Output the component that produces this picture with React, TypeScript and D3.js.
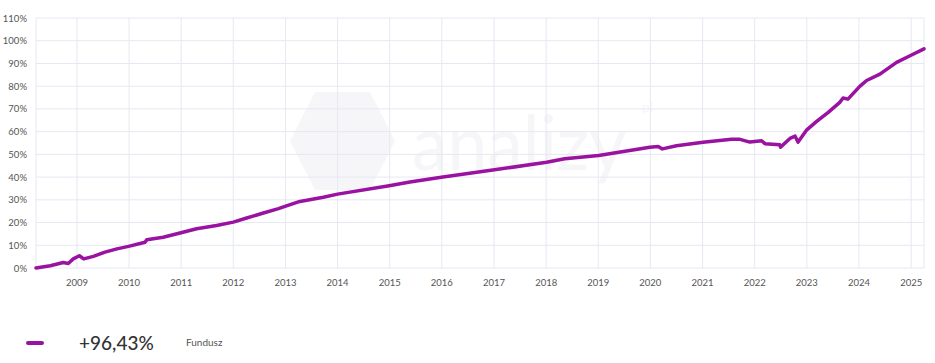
import React from 'react';
import * as d3 from 'd3';

// fund cumulative return (%)
const dates = [
  '2008-03-20', '2008-06-28', '2008-09-27', '2008-11-01', '2008-12-06', '2009-01-18', '2009-02-17',
  '2009-04-26', '2009-07-16', '2009-10-08', '2009-12-28', '2010-04-23', '2010-05-05', '2010-08-28',
  '2010-12-24', '2011-04-19', '2011-09-06', '2012-01-01', '2012-04-04', '2012-07-30', '2012-11-13',
  '2012-12-28', '2013-04-12', '2013-09-23', '2014-01-01', '2014-12-28', '2015-05-23', '2015-12-28',
  '2017-01-04', '2018-01-04', '2018-05-11', '2019-01-04', '2019-12-28', '2020-02-25', '2020-03-25',
  '2020-07-02', '2021-01-04', '2021-07-23', '2021-09-20', '2021-11-28', '2022-02-18', '2022-03-14',
  '2022-06-25', '2022-07-01', '2022-09-05', '2022-10-11', '2022-11-01', '2023-01-01', '2023-03-11',
  '2023-05-31', '2023-08-20', '2023-09-12', '2023-10-16', '2024-01-07', '2024-02-24', '2024-05-27',
  '2024-09-21', '2024-12-24', '2025-04-01',
];
const fundValues = [
  0, 1.0, 2.4, 2.0, 4.0, 5.4, 4.0,
  5.1, 7.0, 8.4, 9.5, 11.3, 12.4, 13.5,
  15.4, 17.3, 18.7, 20.2, 22.0, 24.2, 26.1,
  27.1, 29.3, 31.1, 32.5, 36.2, 37.8, 39.9,
  43.2, 46.5, 48.1, 49.5, 53.1, 53.5, 52.4,
  53.8, 55.3, 56.6, 56.6, 55.4, 56.0, 54.7,
  54.2, 53.2, 57.0, 58.0, 55.4, 60.8, 64.5,
  68.5, 72.9, 74.8, 74.3, 79.9, 82.5, 85.3,
  90.5, 93.4, 96.43,
];
const yTicks = [0, 10, 20, 30, 40, 50, 60, 70, 80, 90, 100, 110];
const xTickYears = d3.range(2009, 2026);
const legendLabel = 'Fundusz';
const legendValue = '+96,43%';

const W = 935;
const H = 363;
const margin = { top: 18, right: 11, bottom: 95, left: 36 };
const color = '#9a12a0';
const gridColor = '#e6e8f2';
const font = 'Lato, "Open Sans", sans-serif';

export default function App() {
  const parse = d3.timeParse('%Y-%m-%d');
  const points = dates.map((d, i) => ({ date: parse(d) as Date, val: fundValues[i] }));

  const x = d3.scaleTime()
    .domain([parse('2008-03-20') as Date, parse('2025-04-01') as Date])
    .range([margin.left, W - margin.right]);
  const y = d3.scaleLinear()
    .domain([0, 110])
    .range([H - margin.bottom, margin.top]);

  const line = d3.line<{ date: Date; val: number }>()
    .x((d) => x(d.date))
    .y((d) => y(d.val));

  const yearDates = xTickYears.map((yr) => new Date(yr, 0, 1));

  return (
    <div style={{ position: 'absolute', top: 0, left: 0 }}>
      <svg width={W} height={H} style={{ display: 'block', background: '#fff' }}>
        {/* watermark */}
        <g fill="#f6f6f8">
          <path d="M315,92 L370,92 L395,141 L370,190 L315,190 L290,141 Z" />
          <text x={412} y={170} fontSize={76} fontFamily={font} fontWeight={400}
            textLength={214} lengthAdjust="spacingAndGlyphs">analizy</text>
          <text x={642} y={112} fontSize={14} fontFamily={font}>pl</text>
        </g>

        {/* horizontal grid */}
        {yTicks.map((t) => (
          <line key={'h' + t} x1={margin.left} x2={W - margin.right} y1={y(t)} y2={y(t)}
            stroke={gridColor} strokeWidth={1} />
        ))}
        {/* vertical grid */}
        <line x1={margin.left} x2={margin.left} y1={margin.top} y2={y(0)} stroke={gridColor} />
        <line x1={W - margin.right} x2={W - margin.right} y1={margin.top} y2={y(0)} stroke={gridColor} />
        {yearDates.map((d) => (
          <line key={'v' + d.getFullYear()} x1={x(d)} x2={x(d)} y1={margin.top} y2={y(0)}
            stroke={gridColor} strokeWidth={1} />
        ))}

        {/* y labels */}
        {yTicks.map((t) => (
          <text key={'yl' + t} x={27} y={y(t) + 3.5} textAnchor="end" fontSize={9.5}
            fontFamily={font} fill="#555">{t}%</text>
        ))}
        {/* x labels */}
        {yearDates.map((d) => (
          <text key={'xl' + d.getFullYear()} x={x(d)} y={286} textAnchor="middle" fontSize={9.5}
            fontFamily={font} fill="#555">{d.getFullYear()}</text>
        ))}

        {/* series */}
        <path d={line(points) || ''} fill="none" stroke={color} strokeWidth={3.5}
          strokeLinejoin="round" strokeLinecap="round" />

        {/* legend */}
        <line x1={28} x2={42} y1={343} y2={343} stroke={color} strokeWidth={4} strokeLinecap="round" />
        <text x={79} y={350} fontSize={19} fontFamily={font} fontWeight={500} fill="#333">{legendValue}</text>
        <text x={186} y={346} fontSize={10} fontFamily={font} fill="#555">{legendLabel}</text>
      </svg>
    </div>
  );
}
